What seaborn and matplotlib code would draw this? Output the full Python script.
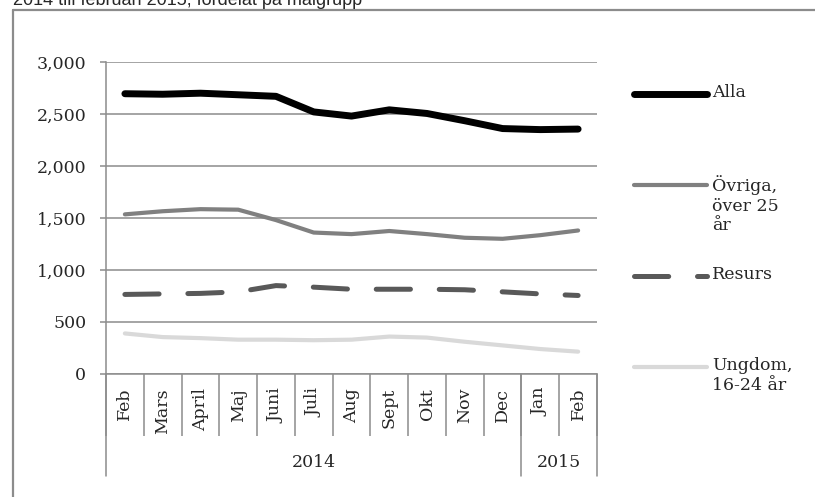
import numpy as np
import pandas as pd
import matplotlib
matplotlib.use('Agg')
import matplotlib.pyplot as plt
from matplotlib.lines import Line2D
import seaborn as sns

# data
months = ['Feb', 'Mars', 'April', 'Maj', 'Juni', 'Juli', 'Aug', 'Sept', 'Okt',
          'Nov', 'Dec', 'Jan', 'Feb']
years = ['2014', '2015']
year_counts = [11, 2]

alla = [2695, 2690, 2700, 2685, 2670, 2520, 2480, 2540, 2505, 2435, 2360, 2350, 2355]
ovriga = [1535, 1565, 1585, 1580, 1480, 1360, 1345, 1375, 1345, 1310, 1300, 1335, 1380]
resurs = [765, 770, 775, 790, 850, 835, 815, 815, 815, 810, 790, 770, 755]
ungdom = [390, 355, 345, 330, 330, 325, 330, 360, 350, 310, 275, 240, 215]

series_names = ['Alla', 'Övriga,\növer 25\når', 'Resurs', 'Ungdom,\n16-24 år']
series_values = [alla, ovriga, resurs, ungdom]
colors = ['#000000', '#808080', '#595959', '#d9d9d9']
widths = [5.0, 3.0, 3.6, 3.0]
dashes = [(1, 0), (1, 0), (1.9, 1.6), (1, 0)]

rows = []
for name, vals in zip(series_names, series_values):
    for i, v in enumerate(vals):
        rows.append({'pos': i + 0.5, 'value': v, 'grupp': name})
df = pd.DataFrame(rows)

sns.set_style('white')
plt.rcParams['font.family'] = ['DejaVu Serif']

fig = plt.figure(figsize=(8.15, 4.97), dpi=100)
ax = fig.add_axes([106 / 815, 1 - 374 / 497, 491 / 815, 312 / 497])

for name, c, lw, d in zip(series_names, colors, widths, dashes):
    sub = df[df['grupp'] == name]
    sns.lineplot(data=sub, x='pos', y='value', color=c, linewidth=lw, ax=ax,
                 legend=False, solid_capstyle='round', dash_capstyle='round')
    if d != (1, 0):
        ax.lines[-1].set_dashes([d[0] * lw, d[1] * lw])

grid_c = '#8c8c8c'
ax.set_xlim(0, len(months))
ax.set_ylim(0, 3000)
ax.set_yticks(np.arange(0, 3001, 500))
ax.set_yticklabels([f'{v:,}' for v in range(0, 3001, 500)], fontsize=12.5)
ax.yaxis.grid(True, color=grid_c, linewidth=1.1)
ax.set_axisbelow(True)
ax.set_xlabel('')
ax.set_ylabel('')

ax.set_xticks(np.arange(len(months)) + 0.5)
ax.set_xticklabels(months, rotation=90, fontsize=12.5, va='top')
ax.set_xticks(np.arange(len(months) + 1), minor=True)
ax.tick_params(axis='x', which='major', length=0, pad=10)
ax.tick_params(axis='x', which='minor', length=44.6, width=1.1, color=grid_c,
               direction='out', bottom=True)
ax.tick_params(axis='y', which='major', length=4.3, width=1.1, color=grid_c,
               direction='out', pad=10, left=True)

for s in ['top', 'right']:
    ax.spines[s].set_visible(False)
for s in ['left', 'bottom']:
    ax.spines[s].set_color(grid_c)
    ax.spines[s].set_linewidth(1.1)

# year grouping row under the months
trans = matplotlib.transforms.blended_transform_factory(ax.transData, ax.transAxes)
edges = np.concatenate([[0], np.cumsum(year_counts)])
for e in edges:
    ax.plot([e, e], [0, -0.327], transform=trans, color=grid_c, lw=1.1,
            clip_on=False)
for y, a, b in zip(years, edges[:-1], edges[1:]):
    ax.text((a + b) / 2, -0.285, y, transform=trans, ha='center', va='center',
            fontsize=12.5)

# legend at the right, handle aligned with the first text line
for k, (name, c, lw, d) in enumerate(zip(series_names, colors, widths, dashes)):
    y = 1 - (94 + k * 91) / 497
    ln = Line2D([634 / 815, 707 / 815], [y, y], transform=fig.transFigure,
                color=c, lw=lw, solid_capstyle='round', dash_capstyle='round')
    if d != (1, 0):
        ln.set_dashes([d[0] * lw, d[1] * lw])
    fig.add_artist(ln)
    fig.text(712 / 815, y + 10 / 497, name, ha='left', va='top', fontsize=12.5,
             linespacing=1.2)

# outer chart frame and clipped title
fig.add_artist(Line2D([13 / 815, 13 / 815], [0, 1 - 10 / 497],
                      transform=fig.transFigure, color='#8c8c8c', lw=1.6))
fig.add_artist(Line2D([13 / 815, 1], [1 - 10 / 497, 1 - 10 / 497],
                      transform=fig.transFigure, color='#8c8c8c', lw=1.6))
fig.text(13 / 815, 1 - 5 / 497, '2014 till februari 2015, fördelat på målgrupp',
         family='Liberation Sans', fontsize=13, va='baseline', ha='left')

fig.savefig('out.png', dpi=100)
